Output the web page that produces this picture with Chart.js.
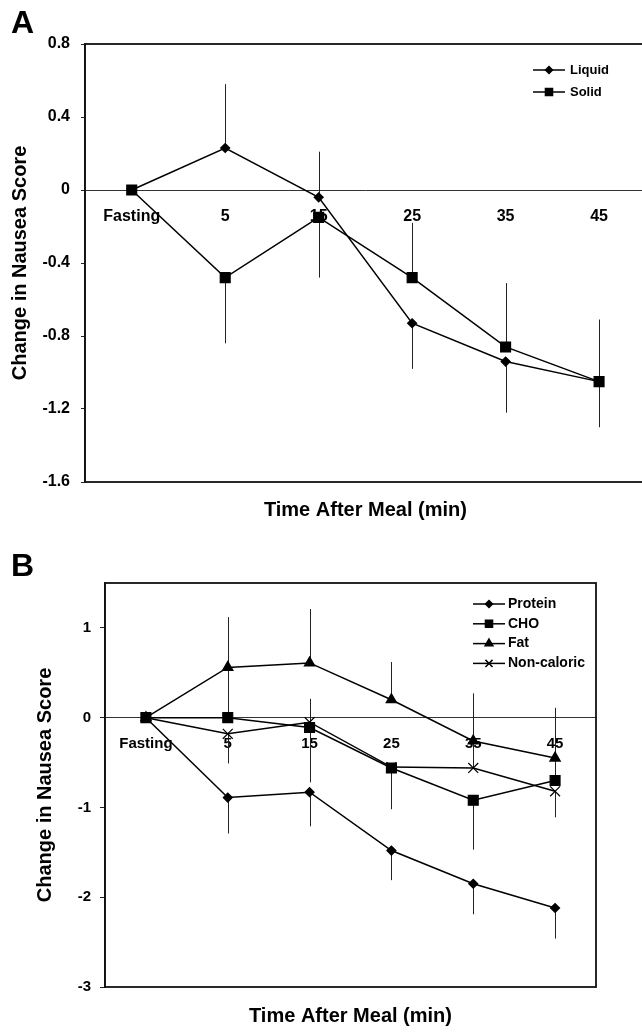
<!DOCTYPE html>
<html>
<head>
<meta charset="utf-8">
<script src="https://cdn.jsdelivr.net/npm/chart.js@4.4.1/dist/chart.umd.min.js"></script>
<style>
  html, body { margin: 0; padding: 0; background: #fff; overflow: hidden; width: 642px; height: 1032px; position: relative; }
  canvas { position: absolute; left: 0; }
  .tag { position: absolute; left: 11px; z-index: 2; font: bold 32px 'Liberation Sans', Arial, sans-serif; color: #000; line-height: 1; }
</style>
</head>
<body>
<div class="tag" style="top:6px">A</div>
<canvas id="chartA" width="654" height="530" style="top:0"></canvas>
<div class="tag" style="top:549px">B</div>
<canvas id="chartB" width="642" height="502" style="top:530px"></canvas>
<script>
const timeLabels = ['Fasting', '5', '15', '25', '35', '45'];

// panel A: liquid vs solid meal
const liquidScore = [0, 0.23, -0.04, -0.73, -0.94, -1.05];
const solidScore = [0, -0.48, -0.15, -0.48, -0.86, -1.05];
// end of the (one sided) error bar at each time point
const liquidErrEnd = [null, 0.58, 0.21, -0.98, -1.22, -1.30];
const solidErrEnd = [null, -0.84, -0.48, -0.18, -0.51, -0.71];
const yTicksA = [-1.6, -1.2, -0.8, -0.4, 0, 0.4, 0.8];

// panel B: meal composition
const proteinScore = [0, -0.89, -0.83, -1.48, -1.85, -2.12];
const choScore = [0, 0, -0.11, -0.56, -0.92, -0.70];
const fatScore = [0, 0.56, 0.61, 0.20, -0.26, -0.45];
const nonCaloricScore = [0, -0.18, -0.05, -0.55, -0.56, -0.82];
const proteinErrEnd = [null, -1.29, -1.21, -1.81, -2.19, -2.46];
const choErrEnd = [null, 0.55, -0.72, -1.02, -1.47, -0.46];
const fatErrEnd = [null, 1.12, 1.21, 0.62, 0.27, 0.11];
const nonCaloricErrEnd = [null, -0.51, 0.21, null, -0.27, -1.11];
const yTicksB = [-3, -2, -1, 0, 1];

Chart.defaults.font.family = "'Liberation Sans', Arial, sans-serif";
Chart.defaults.color = '#000';

const errorBars = {
    id: 'errorBars',
    beforeDatasetsDraw(chart) {
        const { ctx, scales: { y } } = chart;
        ctx.save();
        ctx.strokeStyle = '#222';
        ctx.lineWidth = 1;
        chart.data.datasets.forEach((ds, i) => {
            const meta = chart.getDatasetMeta(i);
            (ds.errEnd || []).forEach((end, j) => {
                if (end === null) return;
                const x = Math.round(meta.data[j].x) + 0.5;
                ctx.beginPath();
                ctx.moveTo(x, y.getPixelForValue(ds.data[j]));
                ctx.lineTo(x, y.getPixelForValue(end));
                ctx.stroke();
            });
        });
        ctx.restore();
    }
};

const frame = {
    id: 'frame',
    beforeDatasetsDraw(chart) {
        const { ctx, chartArea: a } = chart;
        ctx.save();
        ctx.strokeStyle = '#111';
        ctx.lineWidth = 1.8;
        ctx.strokeRect(a.left, a.top, a.right - a.left, a.bottom - a.top);
        ctx.restore();
    }
};

// legend drawn as line + marker, like the original figure
const lineLegend = {
    id: 'lineLegend',
    afterDatasetsDraw(chart, args, opts) {
        const { ctx } = chart;
        ctx.save();
        chart.data.datasets.forEach((ds, i) => {
            const y = opts.top + i * opts.rowGap;
            ctx.strokeStyle = '#000';
            ctx.fillStyle = '#000';
            ctx.lineWidth = 1.5;
            ctx.beginPath();
            ctx.moveTo(opts.left, y);
            ctx.lineTo(opts.left + opts.lineLen, y);
            ctx.stroke();
            Chart.helpers.drawPoint(ctx, {
                pointStyle: ds.pointStyle, radius: opts.markerRadius[i], rotation: 0, borderWidth: 1
            }, opts.left + opts.lineLen / 2, y);
            ctx.font = opts.font;
            ctx.textAlign = 'left';
            ctx.textBaseline = 'middle';
            ctx.fillText(ds.label, opts.left + opts.lineLen + opts.gap, y);
        });
        ctx.restore();
    }
};

function series(label, data, errEnd, pointStyle, radius) {
    return {
        label, data, errEnd, pointStyle,
        pointRadius: radius,
        pointHoverRadius: radius,
        borderColor: '#000',
        backgroundColor: '#000',
        pointBackgroundColor: '#000',
        pointBorderColor: '#000',
        pointBorderWidth: 1.2,
        borderWidth: 1.5,
        tension: 0,
        fill: false
    };
}

function buildOptions(cfg) {
    return {
        responsive: false,
        animation: false,
        events: [],
        layout: { padding: cfg.padding },
        plugins: {
            legend: { display: false },
            tooltip: { enabled: false },
            lineLegend: cfg.legend
        },
        scales: {
            x: {
                type: 'category',
                position: { y: 0 },
                offset: true,
                grid: { display: false, drawTicks: false },
                border: { display: true, color: '#333', width: 1 },
                ticks: {
                    font: { size: cfg.xTickSize, weight: 'bold' },
                    padding: cfg.xTickPad, autoSkip: false, maxRotation: 0
                }
            },
            x2: {
                type: 'category',
                labels: timeLabels,
                position: 'bottom',
                offset: true,
                grid: { display: false, drawTicks: false },
                border: { display: false },
                ticks: { display: false },
                title: {
                    display: true, text: 'Time After Meal (min)',
                    font: { size: 20, weight: 'bold' },
                    padding: cfg.xTitlePad
                }
            },
            y: {
                min: cfg.yMin,
                max: cfg.yMax,
                afterBuildTicks: s => { s.ticks = cfg.yTicks.map(v => ({ value: v })); },
                afterFit: s => { s.width = cfg.yWidth; },
                grid: { drawOnChartArea: false, drawTicks: true, tickLength: cfg.yTickLen, color: '#222' },
                border: { display: true, color: '#111', width: 1.5 },
                ticks: {
                    font: { size: cfg.yTickSize, weight: 'bold' },
                    padding: cfg.yTickPad,
                    callback: cfg.yFormat
                },
                title: {
                    display: true, text: 'Change in Nausea Score',
                    font: { size: 20, weight: 'bold' },
                    padding: { top: cfg.yTitlePad, bottom: 0 }
                }
            }
        }
    };
}

new Chart(document.getElementById('chartA'), {
    type: 'line',
    data: {
        labels: timeLabels,
        datasets: [
            series('Liquid', liquidScore, liquidErrEnd, 'rectRot', 4.5),
            series('Solid', solidScore, solidErrEnd, 'rect', 7)
        ]
    },
    options: buildOptions({
        padding: { top: 44, right: 0, bottom: 0, left: 0 },
        yMin: -1.6, yMax: 0.8, yTicks: yTicksA, yWidth: 85, yTickLen: 4, yTickPad: 11, yTickSize: 16,
        yFormat: v => (v === 0 ? '0' : v.toFixed(1)),
        yTitlePad: 8,
        xTickSize: 16, xTickPad: 17,
        xTitlePad: { top: 16, bottom: 8 },
        legend: { left: 533, top: 70, rowGap: 22, lineLen: 32, gap: 5, markerRadius: [3.5, 5], font: "bold 13px 'Liberation Sans', Arial, sans-serif" }
    }),
    plugins: [frame, errorBars, lineLegend]
});

new Chart(document.getElementById('chartB'), {
    type: 'line',
    data: {
        labels: timeLabels,
        datasets: [
            series('Protein', proteinScore, proteinErrEnd, 'rectRot', 4.5),
            series('CHO', choScore, choErrEnd, 'rect', 7),
            series('Fat', fatScore, fatErrEnd, 'triangle', 6),
            series('Non-caloric', nonCaloricScore, nonCaloricErrEnd, 'crossRot', 7)
        ]
    },
    options: buildOptions({
        padding: { top: 53, right: 46, bottom: 0, left: 0 },
        yMin: -3, yMax: 1.5, yTicks: yTicksB, yWidth: 105, yTickLen: 5, yTickPad: 9, yTickSize: 15,
        yFormat: v => String(v),
        yTitlePad: 33,
        xTickSize: 15, xTickPad: 17,
        xTitlePad: { top: 17, bottom: 4 },
        legend: { left: 473, top: 74, rowGap: 19.8, lineLen: 32, gap: 3, markerRadius: [3.5, 5, 4.5, 5], font: "bold 14px 'Liberation Sans', Arial, sans-serif" }
    }),
    plugins: [frame, errorBars, lineLegend]
});
</script>
</body>
</html>
